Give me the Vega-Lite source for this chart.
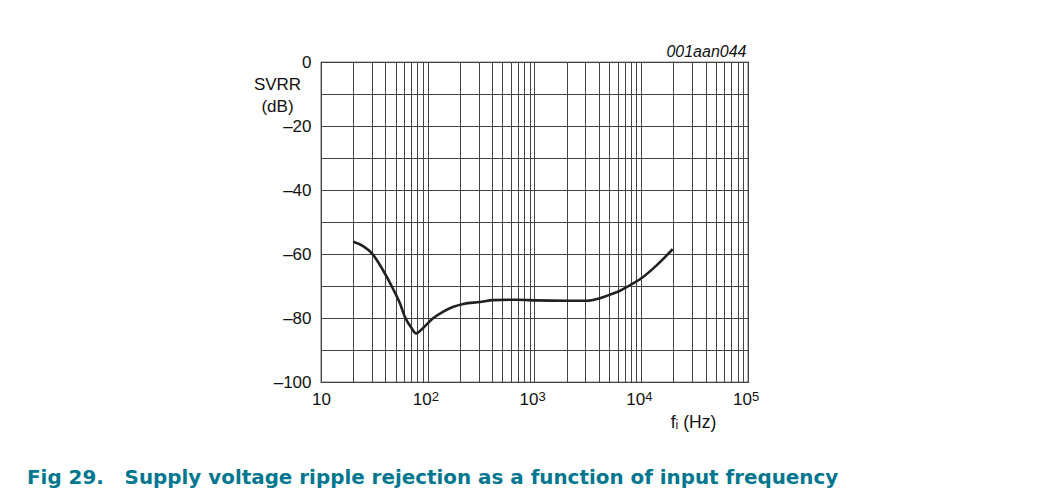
{
  "$schema": "https://vega.github.io/schema/vega-lite/v6.json",
  "width": 427,
  "height": 320,
  "autosize": {"type": "none"},
  "padding": {"left": 321, "top": 62, "right": 313, "bottom": 115},
  "background": "white",
  "config": {
    "view": {"stroke": "#111", "strokeWidth": 1.2},
    "font": "Liberation Sans"
  },
  "title": {
    "text": "Fig 29.\u00a0\u00a0\u00a0Supply voltage ripple rejection as a function of input frequency",
    "orient": "bottom",
    "anchor": "start",
    "frame": "group",
    "dx": -294,
    "offset": 37,
    "font": "DejaVu Sans",
    "fontSize": 19.9,
    "fontWeight": "bold",
    "color": "#00778f"
  },
  "data": {
    "values": [
      {"f": 20, "svrr": -56.2},
      {"f": 25, "svrr": -57.6},
      {"f": 30, "svrr": -59.8},
      {"f": 38, "svrr": -65.0},
      {"f": 47, "svrr": -70.7},
      {"f": 55, "svrr": -75.5},
      {"f": 61, "svrr": -79.6},
      {"f": 70, "svrr": -83.0},
      {"f": 78, "svrr": -84.8},
      {"f": 90, "svrr": -83.2},
      {"f": 112, "svrr": -80.1},
      {"f": 140, "svrr": -78.0},
      {"f": 174, "svrr": -76.5},
      {"f": 215, "svrr": -75.6},
      {"f": 308, "svrr": -75.0},
      {"f": 411, "svrr": -74.4},
      {"f": 700, "svrr": -74.3},
      {"f": 1050, "svrr": -74.5},
      {"f": 2000, "svrr": -74.6},
      {"f": 3080, "svrr": -74.6},
      {"f": 4100, "svrr": -73.8},
      {"f": 5200, "svrr": -72.6},
      {"f": 6330, "svrr": -71.5},
      {"f": 8000, "svrr": -69.6},
      {"f": 9730, "svrr": -67.9},
      {"f": 12970, "svrr": -64.5},
      {"f": 16000, "svrr": -61.6},
      {"f": 19700, "svrr": -58.5}
    ]
  },
  "layer": [
    {
      "mark": {"type": "line", "strokeOpacity": 0},
      "encoding": {
        "x": {
          "field": "f", "type": "quantitative",
          "scale": {"type": "log", "domain": [10, 100000], "nice": false},
          "axis": {
            "orient": "top",
            "values": [100, 1000, 10000, 100000],
            "labelExpr": "datum.value == 100 ? '2' : datum.value == 1000 ? '3' : datum.value == 10000 ? '4' : '5'",
            "labelOverlap": false,
            "labelFlush": false,
            "labelBound": false,
            "labelFont": "Liberation Sans",
            "labelFontSize": 13,
            "labelColor": "#111",
            "labelBaseline": "alphabetic",
            "labelAlign": "center",
            "labelPadding": -338,
            "labelOffset": 7,
            "ticks": false, "domain": false, "grid": false,
            "title": "001aan044",
            "titleFont": "Liberation Sans",
            "titleFontStyle": "italic",
            "titleFontWeight": "normal",
            "titleFontSize": 16,
            "titleColor": "#111",
            "titleAlign": "right",
            "titleAnchor": null,
            "titleBaseline": "alphabetic",
            "titleX": 425,
            "titleY": -6,
            "titleAngle": 0
          }
        },
        "y": {
          "field": "svrr", "type": "quantitative",
          "scale": {"domain": [-100, 0], "nice": false},
          "axis": {
            "values": [-100,-90,-80,-70,-60,-50,-40,-30,-20,-10,0],
            "labelExpr": "datum.value % 20 == 0 ? replace(datum.label, '−', '–') : ''",
            "labelOverlap": false,
            "labelFlush": false,
            "labelBound": false,
            "labelFont": "Liberation Sans",
            "labelFontSize": 17,
            "labelColor": "#111",
            "labelPadding": 10,
            "ticks": false,
            "domain": false,
            "grid": true,
            "gridColor": "#444",
            "gridWidth": 1,
            "gridOpacity": 1,
            "title": ["SVRR", "(dB)"],
            "titleFont": "Liberation Sans",
            "titleFontWeight": "normal",
            "titleFontSize": 17,
            "titleColor": "#111",
            "titleAngle": 0,
            "titleAnchor": null,
            "titleAlign": "center",
            "titleBaseline": "alphabetic",
            "titleLineHeight": 22,
            "titleX": -44,
            "titleY": 27
          }
        }
      }
    },
    {
      "mark": {"type": "line", "color": "#231f20", "strokeWidth": 2.6, "interpolate": "monotone"},
      "encoding": {
        "x": {
          "field": "f", "type": "quantitative",
          "scale": {"type": "log", "domain": [10, 100000], "nice": false},
          "axis": {
            "orient": "bottom",
            "values": [10,20,30,40,50,60,70,80,90,100,200,300,400,500,600,700,800,900,1000,2000,3000,4000,5000,6000,7000,8000,9000,10000,20000,30000,40000,50000,60000,70000,80000,90000,100000],
            "labelExpr": "(datum.value == 10 || datum.value == 100 || datum.value == 1000 || datum.value == 10000 || datum.value == 100000) ? '10' : ''",
            "labelOffset": {"condition": {"test": "datum.value > 10", "value": -6}, "value": 0},
            "labelOverlap": false,
            "labelFlush": false,
            "labelBound": false,
            "labelFont": "Liberation Sans",
            "labelFontSize": 17,
            "labelColor": "#111",
            "labelPadding": 9,
            "ticks": false,
            "domain": false,
            "grid": true,
            "gridColor": "#444",
            "gridWidth": 1,
            "gridOpacity": 1,
            "title": "fᵢ (Hz)",
            "titleFont": "Liberation Sans",
            "titleFontWeight": "normal",
            "titleFontSize": 17.5,
            "titleColor": "#111",
            "titleAnchor": null,
            "titleAlign": "center",
            "titleBaseline": "middle",
            "titleX": 372,
            "titleY": 40
          }
        },
        "y": {
          "field": "svrr", "type": "quantitative",
          "scale": {"domain": [-100, 0], "nice": false},
          "axis": {
            "values": [-100,-90,-80,-70,-60,-50,-40,-30,-20,-10,0],
            "labelExpr": "datum.value % 20 == 0 ? replace(datum.label, '−', '–') : ''",
            "labelOverlap": false,
            "labelFlush": false,
            "labelBound": false,
            "labelFont": "Liberation Sans",
            "labelFontSize": 17,
            "labelColor": "#111",
            "labelPadding": 10,
            "ticks": false,
            "domain": false,
            "grid": true,
            "gridColor": "#444",
            "gridWidth": 1,
            "gridOpacity": 1,
            "title": ["SVRR", "(dB)"],
            "titleFont": "Liberation Sans",
            "titleFontWeight": "normal",
            "titleFontSize": 17,
            "titleColor": "#111",
            "titleAngle": 0,
            "titleAnchor": null,
            "titleAlign": "center",
            "titleBaseline": "alphabetic",
            "titleLineHeight": 22,
            "titleX": -44,
            "titleY": 27
          }
        }
      }
    }
  ],
  "resolve": {"axis": {"x": "independent"}}
}
